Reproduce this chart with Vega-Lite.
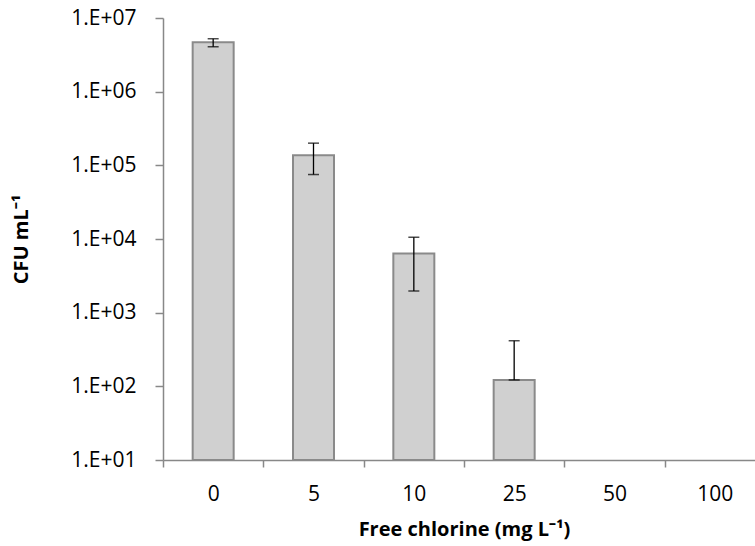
{
  "$schema": "https://vega.github.io/schema/vega-lite/v6.json",
  "width": 602,
  "height": 442,
  "autosize": {"type": "none"},
  "padding": {"left": 163, "top": 18, "right": -10, "bottom": 86},
  "background": "white",
  "data": {
    "values": [
      {"cl": "0", "cfu": 4680000, "lo": 4070000, "hi": 5230000},
      {"cl": "5", "cfu": 137000, "lo": 75000, "hi": 200000},
      {"cl": "10", "cfu": 6350, "lo": 1970, "hi": 10600},
      {"cl": "25", "cfu": 122, "lo": 122, "hi": 416},
      {"cl": "50", "cfu": null, "lo": null, "hi": null},
      {"cl": "100", "cfu": null, "lo": null, "hi": null}
    ]
  },
  "config": {
    "view": {"stroke": null},
    "font": "Open Sans",
    "axis": {
      "domainColor": "#888888",
      "domainWidth": 1.5,
      "tickColor": "#888888",
      "tickWidth": 1.5,
      "grid": false,
      "labelColor": "#000000",
      "labelFont": "Open Sans",
      "labelFontSize": 21,
      "titleFont": "Open Sans",
      "titleFontSize": 20,
      "titleFontWeight": "bold",
      "titleColor": "#000000"
    }
  },
  "layer": [
    {
      "mark": {"type": "bar", "size": 41, "fill": "#d0d0d0", "stroke": "#8a8a8a", "strokeWidth": 2},
      "encoding": {
        "x": {
          "field": "cl", "type": "ordinal", "sort": null,
          "scale": {"domain": ["0", "5", "10", "25", "50", "100"], "paddingInner": 0, "paddingOuter": 0},
          "axis": {"labelAngle": 0, "tickBand": "extent", "tickSize": 7, "labelPadding": 16, "titlePadding": 15},
          "title": "Free chlorine (mg L⁻¹)"
        },
        "y": {
          "field": "cfu", "type": "quantitative",
          "scale": {"type": "log", "domain": [10, 10000000], "nice": false},
          "axis": {
            "values": [10, 100, 1000, 10000, 100000, 1000000, 10000000],
            "labelExpr": "'1.E+0' + round(log(datum.value)/LN10)",
            "tickSize": 8, "labelPadding": 19, "titlePadding": 39
          },
          "title": "CFU mL⁻¹"
        },
        "y2": {"datum": 10}
      }
    },
    {
      "mark": {"type": "rule", "color": "#000000", "strokeWidth": 1.3},
      "encoding": {
        "x": {"field": "cl", "type": "ordinal", "sort": null, "title": "Free chlorine (mg L⁻¹)"},
        "y": {"field": "lo", "type": "quantitative", "title": "CFU mL⁻¹"},
        "y2": {"field": "hi"}
      }
    },
    {
      "mark": {"type": "tick", "color": "#000000", "size": 11, "thickness": 1.5},
      "encoding": {
        "x": {"field": "cl", "type": "ordinal", "sort": null, "title": "Free chlorine (mg L⁻¹)"},
        "y": {"field": "hi", "type": "quantitative", "title": "CFU mL⁻¹"}
      }
    },
    {
      "mark": {"type": "tick", "color": "#000000", "size": 11, "thickness": 1.5},
      "encoding": {
        "x": {"field": "cl", "type": "ordinal", "sort": null, "title": "Free chlorine (mg L⁻¹)"},
        "y": {"field": "lo", "type": "quantitative", "title": "CFU mL⁻¹"}
      }
    }
  ]
}
